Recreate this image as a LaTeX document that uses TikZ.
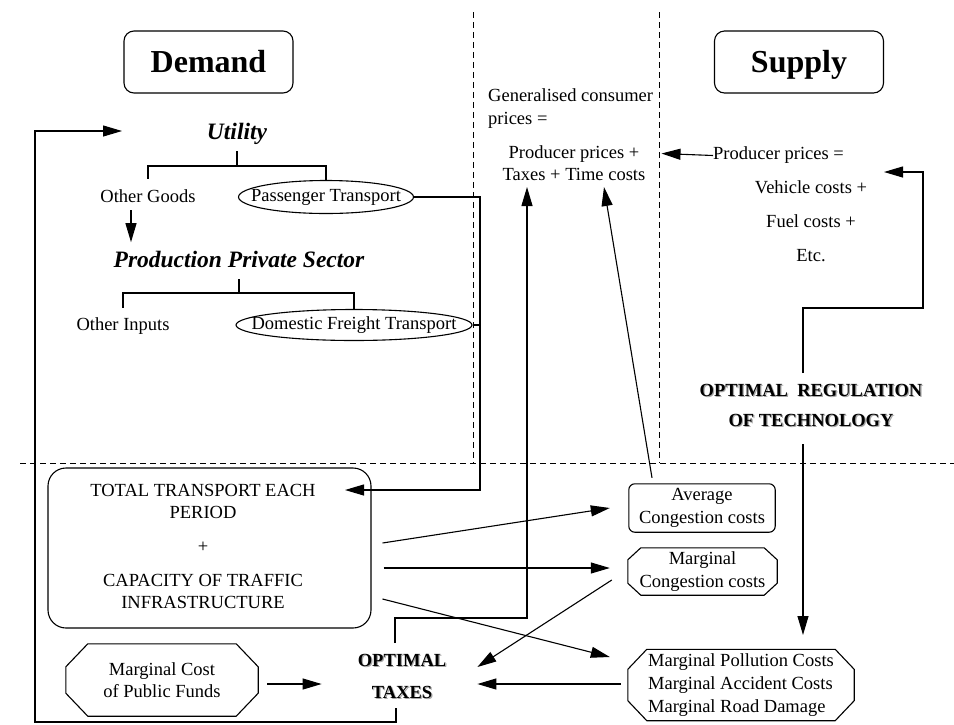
\documentclass[tikz,border=0pt]{standalone}
\usepackage{fontspec}
\setmainfont{Liberation Serif}
\usetikzlibrary{arrows.meta,calc,shapes.geometric}
\newcommand\shtxt[1]{\makebox[0pt][l]{\hspace{1.2pt}\raisebox{-1.2pt}{\textcolor{gray!70}{#1}}}#1}
\newcommand\myocto[4]{%
 \draw[line width=1.1pt, yshift=#4] ($(#1.north west)+(#2,0)$) -- ($(#1.north east)+(-#2,0)$) -- ($(#1.north east)+(0,#3)$) -- ($(#1.south east)+(0,-#3)$) -- ($(#1.south east)+(-#2,0)$) -- ($(#1.south west)+(#2,0)$) -- ($(#1.south west)+(0,-#3)$) -- ($(#1.north west)+(0,#3)$) -- cycle;}
\begin{document}
\begin{tikzpicture}[x=1pt,y=-1pt,
  every node/.style={font=\fontsize{18.5}{22}\selectfont, inner sep=0pt},
  txt/.style={text height=12.6pt, text depth=3.7pt},
  bigit/.style={font=\fontsize{23.5}{28}\selectfont\bfseries\itshape, text height=16pt, text depth=5pt},
  ttl/.style={draw, line width=1.1pt, rounded corners=10pt, minimum width=169pt, minimum height=62pt, text height=21pt, text depth=0pt, font=\fontsize{32}{36}\selectfont\bfseries},
  ell/.style={draw, ellipse, line width=1.1pt, text height=12.6pt, text depth=3.7pt},
  ln/.style={line width=1.1pt},
  tree/.style={line width=1.8pt},
  arr/.style={line width=1.1pt, -{Triangle[length=19pt,width=11pt]}},
  dsh/.style={line width=0.9pt, dash pattern=on 6pt off 4pt},
]
\useasboundingbox (0,0) rectangle (954,724);

% dashed separators
\draw[dsh] (473,12) -- (473,463);
\draw[dsh] (659,12) -- (659,463);
\draw[dsh] (20,463) -- (954,463);

% titles
\node[ttl] (dem) at (208.5,62) {Demand};
\node[ttl] (sup) at (799,62) {Supply};

% demand tree
\node[bigit] (util) at (237,134) {Utility};
\node[txt] (og) at (148,198.5) {Other Goods};
\node[ell, minimum width=175pt, minimum height=33pt] (pt) at (326,197) {\makebox[0pt]{Passenger Transport}};
\node[bigit] (pps) at (239,262) {Production Private Sector};
\node[txt] (oi) at (123,326.5) {Other Inputs};
\node[ell, minimum width=236pt, minimum height=31pt] (dft) at (354,325) {\makebox[0pt]{Domestic Freight Transport}};

\draw[tree] ([yshift=-6.5pt]util.south) -- ++(0,15) coordinate (ub) -| ([yshift=11.3pt]og.north);
\draw[tree] (ub) -| (pt.north);
\draw[tree] ([yshift=-6.5pt]pps.south) -- ++(0,14) coordinate (pb) -| ([yshift=10.3pt]oi.north);
\draw[tree] (pb) -| (dft.north);
\draw[arr] ([xshift=-17pt,yshift=-3.3pt]og.south) -- ++(0,32);

% prices
\node[align=left, anchor=west, font=\fontsize{18.5}{23}\selectfont] (gen) at (488,108.3) {Generalised consumer\\prices =};
\node[align=center] (gcp) at (574,163.5) {Producer prices +\\Taxes + Time costs};
\node[txt, anchor=west] (pp) at (713,155.5) {Producer prices =};
\node[txt] (vc) at (811,189.5) {Vehicle costs +};
\node[txt] (fc) at (811,223.5) {Fuel costs +};
\node[txt] (etc) at (811,257.5) {Etc.};
\draw[arr] (pp.west) -- ([xshift=16pt,yshift=10pt]gcp.east);

\node[align=center, font=\fontsize{18.5}{30}\selectfont\bfseries] (reg) at (811,406) {\shtxt{OPTIMAL\ \ REGULATION}\\\shtxt{OF TECHNOLOGY}};

% lower part
\node[draw, line width=1.1pt, rounded corners=18pt, minimum width=323pt, minimum height=160pt] (tot) at (209.5,548) {};
\node[align=center] (tottxt) at (203,546.5) {TOTAL TRANSPORT EACH\\PERIOD\\[12pt]+\\[12pt]CAPACITY OF TRAFFIC\\INFRASTRUCTURE};

\node[minimum width=192pt, minimum height=72pt, align=center] (mcf) at (162,680) {Marginal Cost\\of Public Funds};
\myocto{mcf}{22}{23}{0pt}

\node[align=center, font=\fontsize{18.5}{32}\selectfont\bfseries] (otx) at (402,677) {\shtxt{OPTIMAL}\\\shtxt{TAXES}};

\node[minimum width=146pt, minimum height=48pt, align=center, font=\fontsize{18.5}{23}\selectfont] (avg) at (702,508) {Average\\Congestion costs};
\draw[line width=1.1pt, rounded corners=6pt, yshift=2pt] (avg.north west) rectangle (avg.south east);
\node[minimum width=149pt, minimum height=47pt, align=center, font=\fontsize{18.5}{23}\selectfont] (mcg) at (702.5,571.5) {Marginal\\Congestion costs};
\myocto{mcg}{13}{12}{2pt}
\node[minimum width=226pt, minimum height=71pt, align=left, font=\fontsize{18.5}{23}\selectfont] (mpc) at (741,685) {Marginal Pollution Costs\\Marginal Accident Costs\\Marginal Road Damage};
\myocto{mpc}{19}{20}{2.5pt}

% connectors
\coordinate (jn) at (480,490);
\coordinate (totin) at (345,490);
\draw[arr] (pt.east) -| (jn) -- (totin);
\draw[ln] (dft.east) -- (dft.east -| jn);

\coordinate (lb) at (35,722);
\coordinate (utin) at (122,131);
\coordinate (otxb) at (396,708);
\draw[arr] (otxb) |- (lb) |- (utin);

\coordinate (otxt) at (395,643);
\coordinate (tc) at (527,618);
\coordinate (taxin) at (527,187);
\draw[arr] (otxt) |- (tc) -- (taxin);

\coordinate (timein) at (604,187);
\draw[arr] ([xshift=-50pt,yshift=6pt]avg.north) -- (timein);

\draw[arr] ([xshift=11pt,yshift=5pt]tot.east) -- ([xshift=-19pt,yshift=0pt]avg.west);
\draw[arr] ([xshift=12pt,yshift=-20pt]tot.east) -- ([xshift=-18pt,yshift=3.5pt]mcg.west);
\draw[arr] ([xshift=11pt,yshift=-51pt]tot.east) -- ([xshift=-18pt,yshift=28pt]mpc.west);
\draw[arr] ([xshift=-16pt,yshift=-8.5pt]mcg.west) -- ([xshift=31pt,yshift=10pt]otx.east);
\draw[arr] ([xshift=-7pt,yshift=1pt]mpc.west) -- ([xshift=31pt,yshift=-7pt]otx.east);
\draw[arr] ([xshift=9pt,yshift=-4pt]mcf.east) -- ([xshift=-36pt,yshift=-7pt]otx.west);

\coordinate (rtop) at (803,373);
\coordinate (rc) at (923,308);
\coordinate (vcin) at (884,172);
\draw[arr] (rtop) |- (rc) |- (vcin);
\coordinate (rbot) at (803,444);
\coordinate (mpcin) at (803,635);
\draw[arr] (rbot) -- (mpcin);
\end{tikzpicture}
\end{document}
